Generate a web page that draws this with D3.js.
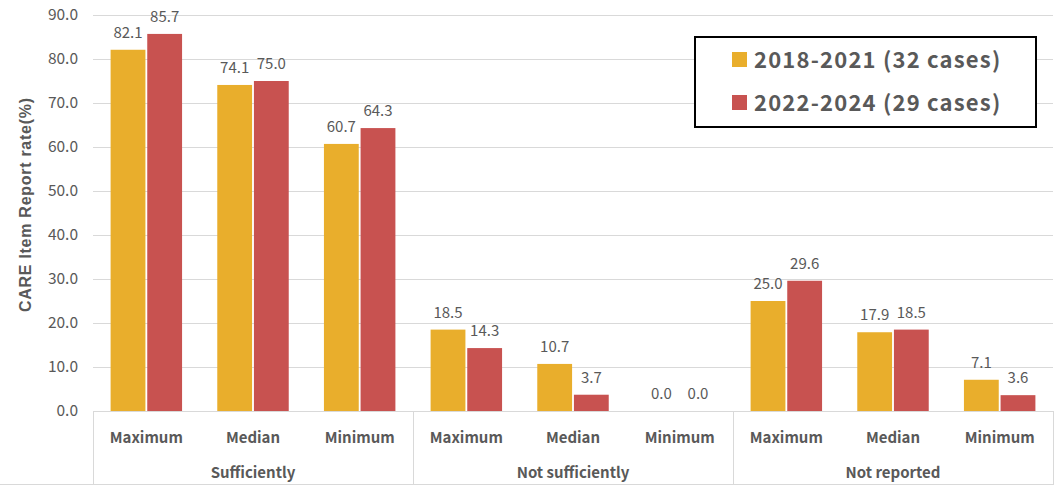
<!DOCTYPE html>
<html><head><meta charset="utf-8">
<script src="https://cdn.jsdelivr.net/npm/d3@7"></script>
<style>body{margin:0;background:#fff;} svg{display:block;font-family:"Noto Sans CJK KR","Noto Sans",sans-serif;}</style>
</head><body>
<script>
const groups = ["Sufficiently","Not sufficiently","Not reported"];
const stats = ["Maximum","Median","Minimum"];
const seriesNames = ["2018-2021 (32 cases)","2022-2024 (29 cases)"];
const values2018 = [82.1,74.1,60.7,18.5,10.7,0.0,25.0,17.9,7.1];
const values2022 = [85.7,75.0,64.3,14.3,3.7,0.0,29.6,18.5,3.6];
const yTicks = [0,10,20,30,40,50,60,70,80,90];
const colors = ["#E9AE2C","#C85250"];

(function(){
const W=1054,H=485;
const svg=d3.select("body").append("svg").attr("width",W).attr("height",H);
const mL=93,mR=1053,mT=15,mB=411;
const cats=[];groups.forEach((g,gi)=>stats.forEach((s,si)=>cats.push({id:gi+"-"+si,g,s})));
const x=d3.scaleBand().domain(cats.map(c=>c.id)).range([mL,mR]).paddingInner(0.33).paddingOuter(0.165);
const xs=d3.scaleBand().domain([0,1]).range([0,x.bandwidth()]).paddingInner(0.05);
const y=d3.scaleLinear().domain([0,90]).range([mB,mT]);

svg.append("g").selectAll("line").data(yTicks.slice(1)).join("line")
 .attr("x1",mL).attr("x2",mR).attr("y1",d=>y(d)+0.5).attr("y2",d=>y(d)+0.5).attr("stroke","#d9d9d9").attr("stroke-width",1);
const ya=svg.append("g").attr("transform",`translate(${mL},0)`).call(d3.axisLeft(y).tickValues(yTicks).tickFormat(d3.format(".1f")).tickSize(0).tickPadding(15));
ya.select(".domain").remove();
ya.selectAll("text").attr("font-size",15.5).attr("fill","#595959").attr("font-family","'Noto Sans CJK KR','Noto Sans',sans-serif");

svg.append("text").attr("transform",`translate(31,205) rotate(-90)`).attr("text-anchor","middle")
 .style("font-family","'Liberation Sans',Arial,sans-serif")
 .attr("font-size",16).attr("textLength",214).attr("lengthAdjust","spacing")
 .attr("font-weight","bold").attr("fill","#595959").text("CARE Item Report rate(%)");

const series=[values2018,values2022];
series.forEach((vals,si)=>{
 const g=svg.append("g");
 g.selectAll("rect").data(cats).join("rect")
  .attr("x",(c)=>x(c.id)+xs(si)).attr("width",xs.bandwidth())
  .attr("y",(c,i)=>y(vals[i])).attr("height",(c,i)=>y(0)-y(vals[i])).attr("fill",colors[si]);
 g.selectAll("text").data(cats).join("text")
  .attr("x",(c)=>x(c.id)+xs(si)+xs.bandwidth()/2).attr("y",(c,i)=>y(vals[i])-12)
  .attr("text-anchor","middle").attr("font-size",15).attr("fill","#595959").text((c,i)=>vals[i].toFixed(1));
});

svg.append("line").attr("x1",mL).attr("x2",mR).attr("y1",mB+0.5).attr("y2",mB+0.5).attr("stroke","#d9d9d9");
const gw=(mR-mL)/3;
[0,1,2,3].forEach(i=>{
 const xx=Math.round(mL+gw*i)+0.5;
 svg.append("line").attr("x1",xx).attr("x2",xx).attr("y1",mB).attr("y2",484).attr("stroke","#d9d9d9");
});
svg.append("line").attr("x1",0).attr("x2",W).attr("y1",484.5).attr("y2",484.5).attr("stroke","#d9d9d9");
svg.append("g").selectAll("text").data(cats).join("text")
 .attr("x",c=>x(c.id)+x.bandwidth()/2).attr("y",443).attr("text-anchor","middle")
 .attr("font-size",15).attr("font-weight","bold").attr("fill","#595959").text(c=>c.s);
svg.append("g").selectAll("text").data(groups).join("text")
 .attr("x",(g,i)=>mL+gw*i+gw/2).attr("y",478).attr("text-anchor","middle")
 .attr("font-size",15).attr("font-weight","bold").attr("fill","#595959").text(g=>g);

const lg=svg.append("g");
lg.append("rect").attr("x",695).attr("y",37).attr("width",341).attr("height",90).attr("fill","#fff").attr("stroke","#000").attr("stroke-width",2);
seriesNames.forEach((n,i)=>{
 const cy=60+i*43;
 lg.append("rect").attr("x",732).attr("y",cy-8).attr("width",15).attr("height",15).attr("fill",colors[i]);
 lg.append("text").attr("x",754).attr("y",cy+8).attr("font-size",22).attr("letter-spacing",1.2).attr("font-weight","bold").attr("fill","#595959").text(n);
});
})();
</script>
</body></html>
